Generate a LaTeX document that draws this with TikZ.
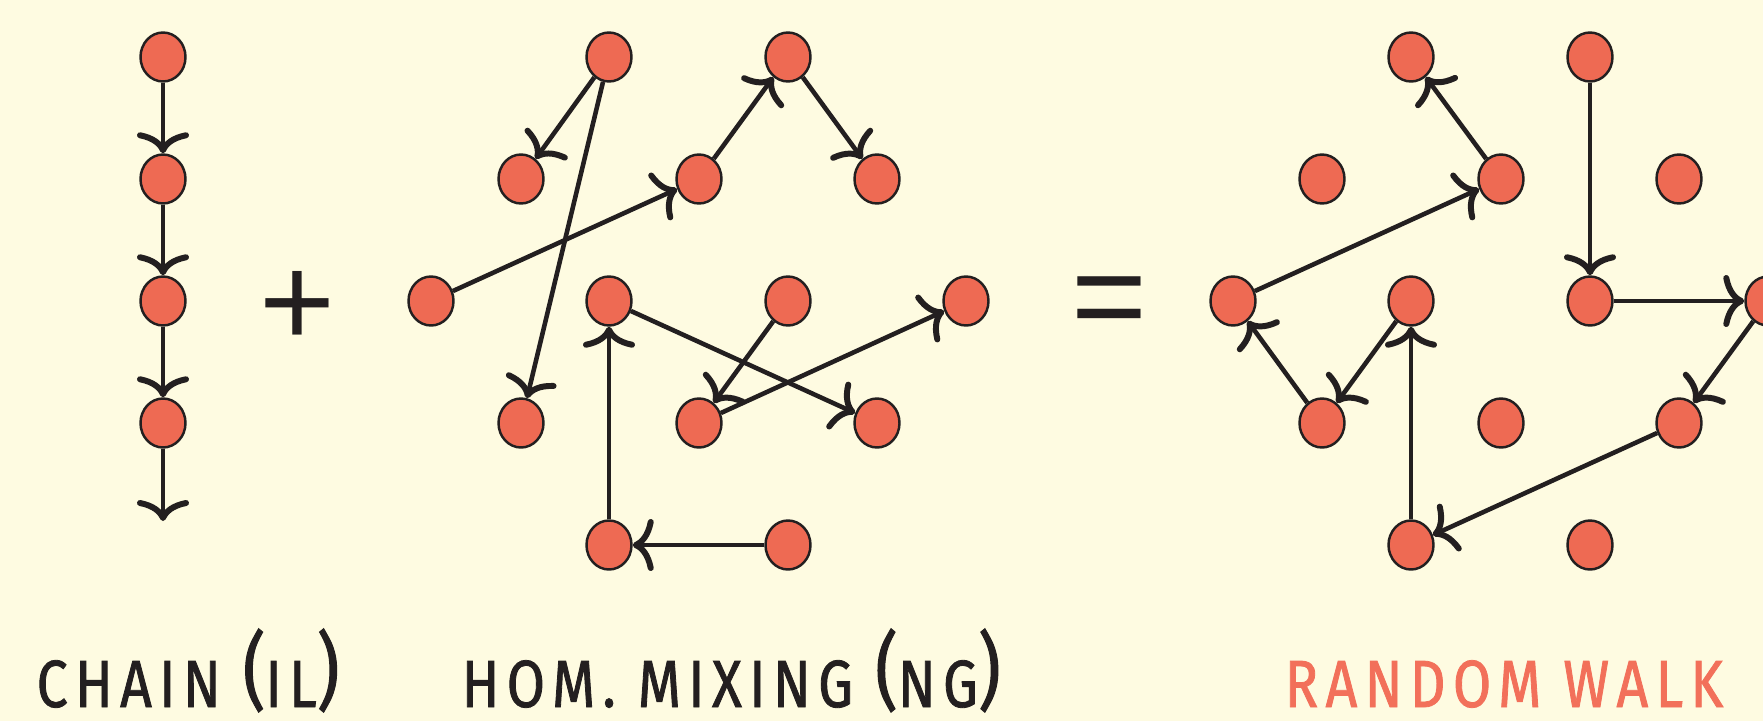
\documentclass[tikz,border=0pt]{standalone}
\usepackage{fontspec}
\setmainfont{Fira Sans}
\newfontfamily\capfont[FakeStretch=0.83,LetterSpace=11,FakeBold=1.2]{Fira Sans}
\newfontfamily\opfont{Liberation Sans}
\usetikzlibrary{arrows.meta,shapes.geometric}
\definecolor{paper}{HTML}{FEFBE1}
\definecolor{dot}{HTML}{EE6A53}
\definecolor{ink}{HTML}{231F20}
\definecolor{walk}{HTML}{F2705A}
\newcommand\tallpar[1]{\raisebox{2pt}{\fontsize{24}{22}\selectfont #1}}

\begin{document}
\begin{tikzpicture}[
    nd/.style={ellipse, draw=ink, line width=0.7pt, fill=dot,
               minimum width=4.5mm, minimum height=4.9mm, inner sep=0pt},
    e/.style={ink, line width=1.3pt,
              -{Computer Modern Rightarrow[width=5.2mm, length=2.1mm, line width=1.7pt]}},
    lbl/.style={anchor=base west, inner sep=0pt, text=ink,
                font=\capfont\fontsize{19}{22}\selectfont},
    op/.style={inner sep=0pt, text=ink, font=\opfont\fontsize{37}{40}\selectfont},
  ]
  \path[use as bounding box, fill=paper] (0,0) rectangle (17.63,-7.21);

  % chain
  \node[nd] (ch1) at (1.63, -0.57) {};
  \node[nd] (ch2) at (1.63, -1.79) {};
  \node[nd] (ch3) at (1.63, -3.01) {};
  \node[nd] (ch4) at (1.63, -4.23) {};
  \coordinate (chend) at (1.63, -5.21);
  \draw[e] (ch1) -- (ch2);
  \draw[e] (ch2) -- (ch3);
  \draw[e] (ch3) -- (ch4);
  \draw[e] (ch4) -- (chend);

  \node[op] (plus) at (2.97, -3.09) {+};

  % homogeneous mixing
  \node[nd] (hm1) at (6.09, -0.57) {};
  \node[nd] (hm2) at (7.88, -0.57) {};
  \node[nd] (hm3) at (5.21, -1.79) {};
  \node[nd] (hm4) at (6.99, -1.79) {};
  \node[nd] (hm5) at (8.77, -1.79) {};
  \node[nd] (hm6) at (4.31, -3.01) {};
  \node[nd] (hm7) at (6.09, -3.01) {};
  \node[nd] (hm8) at (7.88, -3.01) {};
  \node[nd] (hm9) at (9.66, -3.01) {};
  \node[nd] (hm10) at (5.21, -4.23) {};
  \node[nd] (hm11) at (6.99, -4.23) {};
  \node[nd] (hm12) at (8.77, -4.23) {};
  \node[nd] (hm13) at (6.09, -5.45) {};
  \node[nd] (hm14) at (7.88, -5.45) {};
  \draw[e] (hm1) -- (hm3);
  \draw[e] (hm1) -- (hm10);
  \draw[e] (hm6) -- (hm4);
  \draw[e] (hm4) -- (hm2);
  \draw[e] (hm2) -- (hm5);
  \draw[e] (hm7) -- (hm12);
  \draw[e] (hm8) -- (hm11);
  \draw[e] (hm11) -- (hm9);
  \draw[e] (hm13) -- (hm7);
  \draw[e] (hm14) -- (hm13);

  \node[op] (equal) at (11.09, -3.09) {=};

  % random walk
  \node[nd] (rw1) at (14.11, -0.57) {};
  \node[nd] (rw2) at (15.90, -0.57) {};
  \node[nd] (rw3) at (13.22, -1.79) {};
  \node[nd] (rw4) at (15.01, -1.79) {};
  \node[nd] (rw5) at (16.79, -1.79) {};
  \node[nd] (rw6) at (12.33, -3.01) {};
  \node[nd] (rw7) at (14.11, -3.01) {};
  \node[nd] (rw8) at (15.90, -3.01) {};
  \node[nd] (rw9) at (17.68, -3.01) {};
  \node[nd] (rw10) at (13.22, -4.23) {};
  \node[nd] (rw11) at (15.01, -4.23) {};
  \node[nd] (rw12) at (16.79, -4.23) {};
  \node[nd] (rw13) at (14.11, -5.45) {};
  \node[nd] (rw14) at (15.90, -5.45) {};
  \draw[e] (rw6) -- (rw4);
  \draw[e] (rw4) -- (rw1);
  \draw[e] (rw2) -- (rw8);
  \draw[e] (rw8) -- (rw9);
  \draw[e] (rw9) -- (rw12);
  \draw[e] (rw12) -- (rw13);
  \draw[e] (rw13) -- (rw7);
  \draw[e] (rw7) -- (rw10);
  \draw[e] (rw10) -- (rw6);

  % captions
  \node[lbl] (capil) at (0.36, -7.07) {CHAIN \tallpar{(}IL\tallpar{)}};
  \node[lbl] (capng) at (4.61, -7.07) {HOM. MIXING \tallpar{(}NG\tallpar{)}};
  \node[lbl, text=walk] (caprw) at (12.84, -7.07) {RANDOM WALK};
\end{tikzpicture}
\end{document}
